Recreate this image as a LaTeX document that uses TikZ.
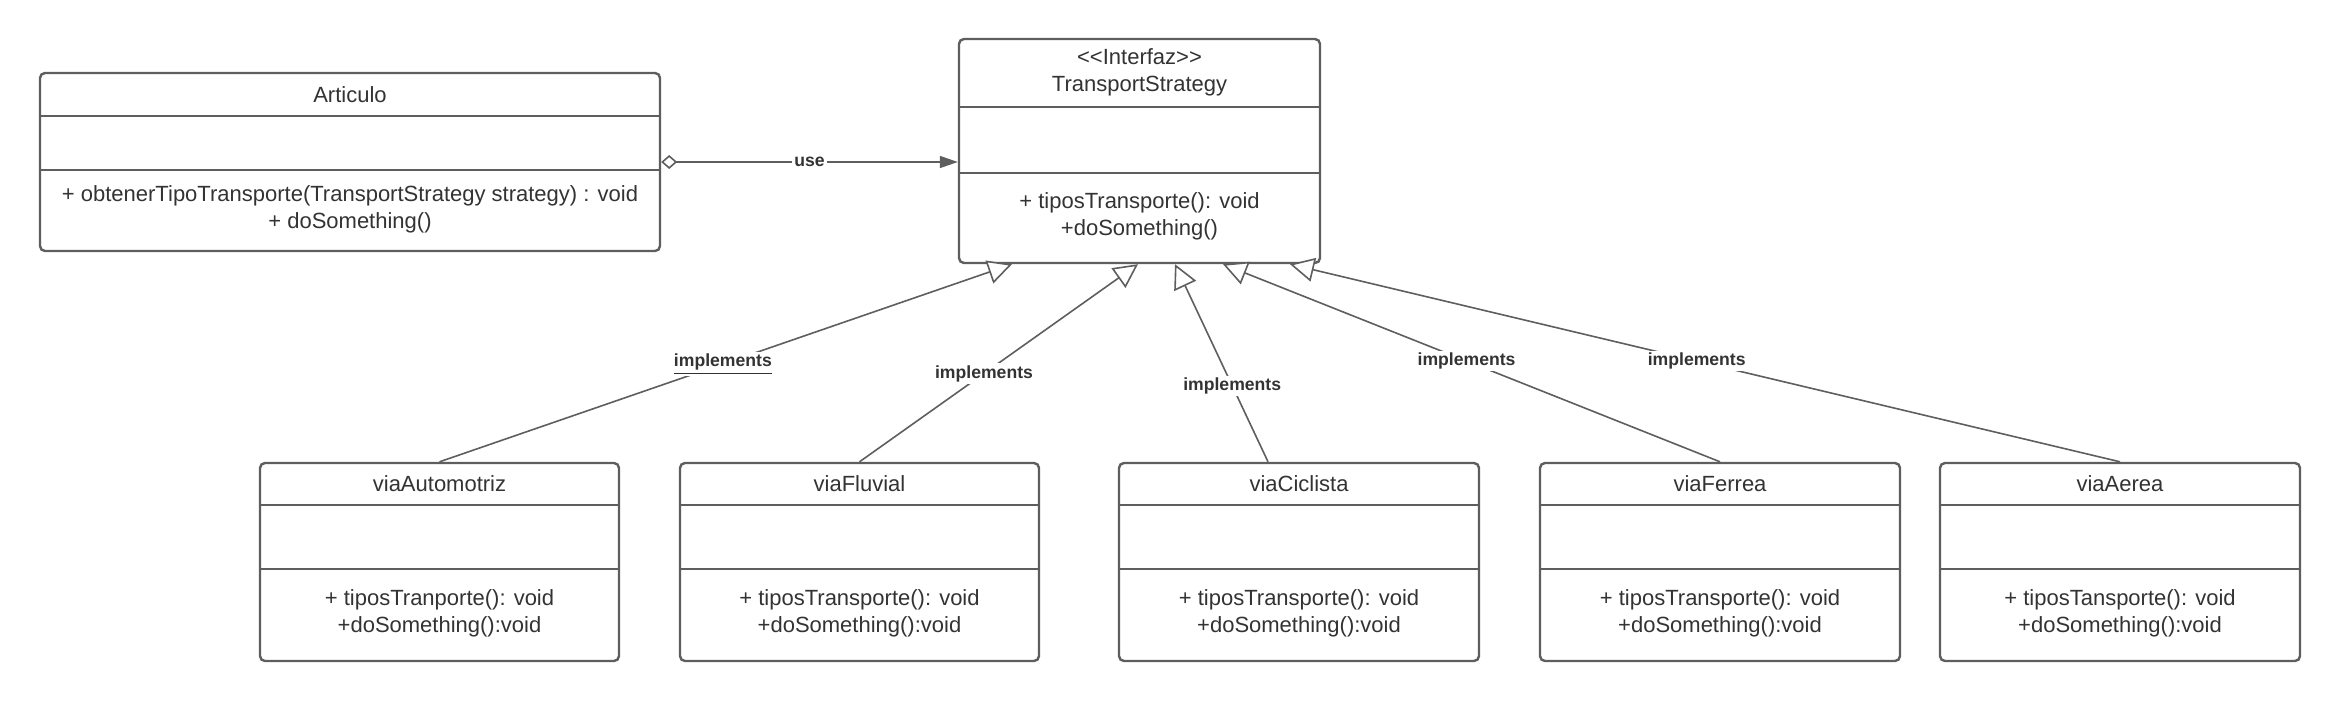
\documentclass[tikz,border=0pt]{standalone}
\usepackage{fontspec}
\setmainfont{Liberation Sans}
\usetikzlibrary{arrows.meta}

\definecolor{linegray}{HTML}{5E5E5E}
\definecolor{textgray}{HTML}{333333}

\tikzset{every picture/.style={line width=1.2pt}}
\tikzset{
  classbox/.style={draw=linegray, rounded corners=2.5pt, fill=white, inner sep=0pt},
  divider/.style={draw=linegray, line width=1.3pt},
  classtext/.style={text=textgray, font=\fontsize{11}{13.5}\selectfont, align=center, inner sep=0pt},
  implements/.style={draw=linegray, line width=0.8pt, -{Triangle[open, fill=white, length=12pt, width=12pt]}},
  uses/.style={draw=linegray, line width=0.8pt, {Diamond[open, fill=white, length=8pt, width=7pt]}-{Triangle[length=9pt, width=6pt]}},
  edgelabel/.style={fill=white, text=textgray, font=\fontsize{8.8}{10}\selectfont\bfseries, inner sep=1pt},
}

\begin{document}
\begin{tikzpicture}[x=0.5pt,y=0.5pt,yscale=-1,xscale=1]
		\useasboundingbox (0,0) rectangle (2340,702);

		%Shape: Class Articulo
		\node[classbox, minimum width=310pt, minimum height=89pt] (articulo) at (350,162) {};
		\draw[divider] (40,116) -- (660,116);
		\draw[divider] (40,170) -- (660,170);
		%Shape: Class TransportStrategy
		\node[classbox, minimum width=180.5pt, minimum height=112pt] (strategy) at (1139.5,151) {};
		\draw[divider] (959,107) -- (1320,107);
		\draw[divider] (959,173) -- (1320,173);
		%Shape: Class viaAutomotriz
		\node[classbox, minimum width=179.5pt, minimum height=99pt] (automotriz) at (439.5,562) {};
		\draw[divider] (260,505) -- (619,505);
		\draw[divider] (260,569) -- (619,569);
		%Shape: Class viaFluvial
		\node[classbox, minimum width=179.5pt, minimum height=99pt] (fluvial) at (859.5,562) {};
		\draw[divider] (680,505) -- (1039,505);
		\draw[divider] (680,569) -- (1039,569);
		%Shape: Class viaCiclista
		\node[classbox, minimum width=180pt, minimum height=99pt] (ciclista) at (1299,562) {};
		\draw[divider] (1119,505) -- (1479,505);
		\draw[divider] (1119,569) -- (1479,569);
		%Shape: Class viaFerrea
		\node[classbox, minimum width=180pt, minimum height=99pt] (ferrea) at (1720,562) {};
		\draw[divider] (1540,505) -- (1900,505);
		\draw[divider] (1540,569) -- (1900,569);
		%Shape: Class viaAerea
		\node[classbox, minimum width=180pt, minimum height=99pt] (aerea) at (2120,562) {};
		\draw[divider] (1940,505) -- (2300,505);
		\draw[divider] (1940,569) -- (2300,569);

		%Straight Lines: use
		\draw[uses] (articulo.east) -- node[edgelabel] (useLabel) {use} (strategy.west |- articulo.east);
		%Straight Lines: implements
		\draw[implements] (automotriz.north) -- node[edgelabel, pos=0.495] (implAuto) {\underline{implements}} (strategy.south -| 1012,0);
		\draw[implements] (fluvial.north) -- node[edgelabel, pos=0.447] (implFluvial) {implements} (strategy.south -| 1138,0);
		\draw[implements] (ciclista.north -| 1268,0) -- node[edgelabel, pos=0.385] (implCiclista) {implements} (strategy.south -| 1175,0);
		\draw[implements] (ferrea.north) -- node[edgelabel, pos=0.51] (implFerrea) {implements} (strategy.south -| 1223,0);
		\draw[implements] (aerea.north) -- node[edgelabel, pos=0.51] (implAerea) {implements} (strategy.south -| 1290,0);

		% Text Node
		\node[classtext] (articuloTitle) at (350,94.5) {Articulo};
		% Text Node
		\node[classtext] (articuloOps) at (350,209) {+ obtenerTipoTransporte(TransportStrategy strategy) : void\\+ doSomething()};
		% Text Node
		\node[classtext] (strategyTitle) at (1139.5,72) {<{}<Interfaz>{}>\\TransportStrategy};
		% Text Node
		\node[classtext] (strategyOps) at (1139.5,216) {+ tiposTransporte(): void\\+doSomething()};
		% Text Node
		\node[classtext] (automotrizTitle) at (439.5,484) {viaAutomotriz};
		% Text Node
		\node[classtext] (automotrizOps) at (439.5,613) {+ tiposTranporte(): void\\+doSomething():void};
		% Text Node
		\node[classtext] (fluvialTitle) at (859.5,484) {viaFluvial};
		% Text Node
		\node[classtext] (fluvialOps) at (859.5,613) {+ tiposTransporte(): void\\+doSomething():void};
		% Text Node
		\node[classtext] (ciclistaTitle) at (1299,484) {viaCiclista};
		% Text Node
		\node[classtext] (ciclistaOps) at (1299,613) {+ tiposTransporte(): void\\+doSomething():void};
		% Text Node
		\node[classtext] (ferreaTitle) at (1720,484) {viaFerrea};
		% Text Node
		\node[classtext] (ferreaOps) at (1720,613) {+ tiposTransporte(): void\\+doSomething():void};
		% Text Node
		\node[classtext] (aereaTitle) at (2120,484) {viaAerea};
		% Text Node
		\node[classtext] (aereaOps) at (2120,613) {+ tiposTansporte(): void\\+doSomething():void};

\end{tikzpicture}
\end{document}
